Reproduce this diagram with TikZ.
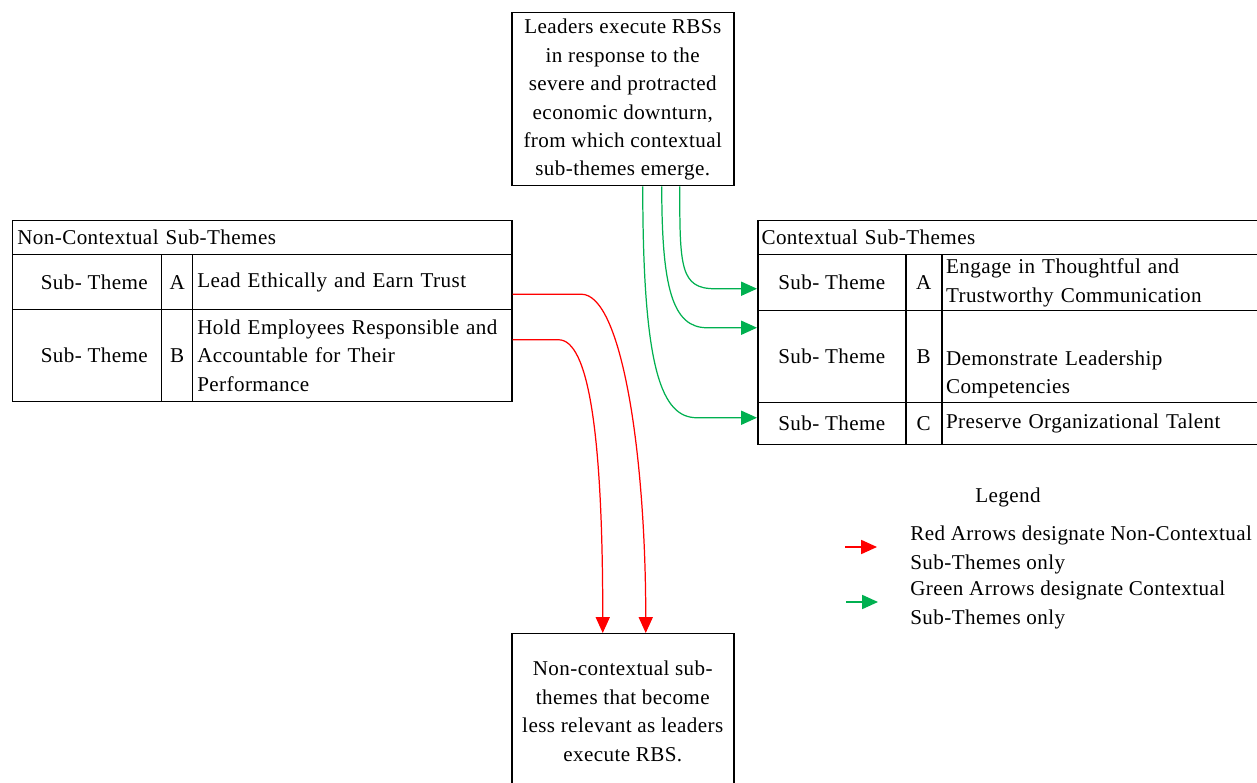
\documentclass[tikz,border=0pt]{standalone}
\usepackage{fontspec}
\setmainfont{Liberation Serif}[LetterSpace=2]
\usetikzlibrary{calc}
\usetikzlibrary{arrows.meta}
\usetikzlibrary{positioning}
\definecolor{arrred}{RGB}{255,0,0}
\definecolor{arrgreen}{RGB}{0,176,80}
\tikzset{txt/.style={font=\fontsize{12}{16.2}\selectfont,inner sep=0pt}}
\tikzset{cell/.style 2 args={txt,draw=black,line width=0.85pt,anchor=north west,
  minimum width=#1*0.02cm,minimum height=#2*0.02cm}}
\tikzset{redarr/.style={draw=arrred,line width=0.7pt,-{Triangle[length=9pt,width=8pt]}}}
\tikzset{grnarr/.style={draw=arrgreen,line width=0.7pt,-{Triangle[length=9pt,width=8pt]}}}

\begin{document}
\begin{tikzpicture}[x=0.02cm,y=-0.02cm]
\useasboundingbox (0,0) rectangle (1257,783);

% top and bottom boxes
\node[cell={222}{173},align=center,text depth=2pt](lead) at (511,12){Leaders execute RBSs\\in response to the\\severe and protracted\\economic downturn,\\from which contextual\\sub-themes emerge.};
\node[cell={222}{155},align=center](less) at (511,633){Non-contextual sub-\\themes that become\\less relevant as leaders\\execute RBS.};

% non-contextual table
\node[cell={499}{34},text width=9.8cm,align=left](ncHead) at (12,220){Non-Contextual Sub-Themes};
\node[cell={149}{55}](ncA1) at (12,254){\hspace{8pt}Sub- Theme};
\node[cell={31}{55}](ncA2) at (161,254){A};
\node[cell={319}{55},text width=6.2cm,align=left](ncA3) at (192,254){Lead Ethically and Earn Trust};
\node[cell={149}{92}](ncB1) at (12,309){\hspace{8pt}Sub- Theme};
\node[cell={31}{92}](ncB2) at (161,309){B};
\node[cell={319}{92},text width=6.2cm,align=left](ncB3) at (192,309){Hold Employees Responsible and\\Accountable for Their\\Performance};

% contextual table
\node[cell={500}{34},text width=9.85cm,align=left](cHead) at (757,220){Contextual Sub-Themes};
\node[cell={148}{56}](cA1) at (757,254){Sub- Theme};
\node[cell={36}{56}](cA2) at (905,254){A};
\node[cell={316}{56},text width=6.15cm,align=left](cA3) at (941,254){Engage in Thoughtful and\\Trustworthy Communication};
\node[cell={148}{92}](cB1) at (757,310){Sub- Theme};
\node[cell={36}{92}](cB2) at (905,310){B};
\node[cell={316}{92},text width=6.15cm,align=left](cB3) at (941,310){\rule{0pt}{12pt}\\Demonstrate Leadership\\Competencies};
\node[cell={148}{42}](cC1) at (757,402){Sub- Theme};
\node[cell={36}{42}](cC2) at (905,402){C};
\node[cell={316}{42},text width=6.15cm,align=left](cC3) at (941,402){Preserve Organizational Talent};

% red arrows
\draw[redarr] ($(ncA3.east)+(0,12)$) -- ++(69,0) .. controls +(40,0) and +(0,-180) .. ($(less.north)+(23,0)$);
\draw[redarr] ($(ncB3.east)+(0,-16)$) -- ++(46,0) .. controls +(30,0) and +(0,-200) .. ($(less.north)+(-20,0)$);

% green arrows
\foreach \dx/\row/\dy/\lx/\dn in {57/cA1/6/42/80, 39/cB1/-29/50/100, 20/cC1/-6/60/185}{
\draw[grnarr] ($(lead.south)+(\dx,0)$) .. controls +(0,\dn) and +(-35,0) .. ($(\row.west)+(-\lx,\dy)$) -- ($(\row.west)+(0,\dy)$);
}

% legend
\node[txt](legTitle) at (1008,497){Legend};
\node[txt,anchor=west,align=left](legRed) at (910,550){Red Arrows designate Non-Contextual\\Sub-Themes only};
\node[txt,anchor=west,align=left](legGreen) at (910,605){Green Arrows designate Contextual\\Sub-Themes only};
\coordinate (r0) at ($(legRed.west)+(-65,-3)$);
\coordinate (r1) at ($(legRed.west)+(-33,-3)$);
\coordinate (g0) at ($(legGreen.west)+(-64,-3)$);
\coordinate (g1) at ($(legGreen.west)+(-32,-3)$);
\draw[redarr] (r0) -- (r1);
\draw[grnarr] (g0) -- (g1);

\end{tikzpicture}
\end{document}
